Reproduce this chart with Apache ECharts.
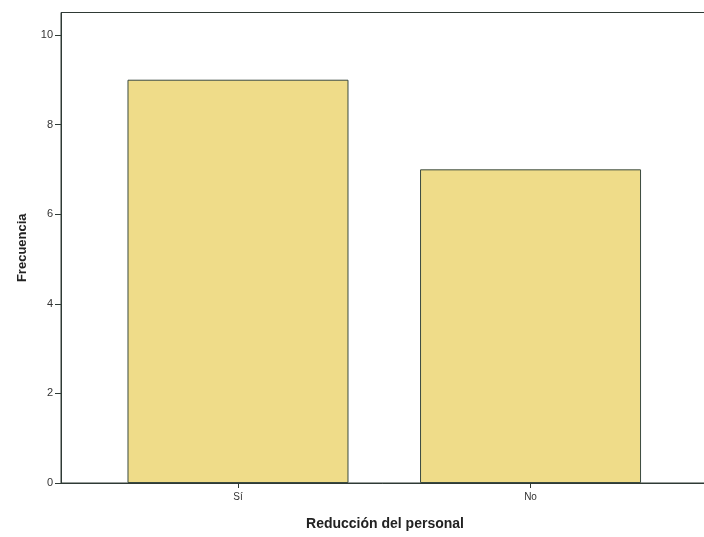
<!DOCTYPE html>
<html>
<head>
<meta charset="utf-8">
<script src="https://cdn.jsdelivr.net/npm/echarts@6/dist/echarts.min.js"></script>
<style>
html,body{margin:0;padding:0;background:#fff;overflow:hidden;}
#chart{width:704px;height:537px;}
</style>
</head>
<body>
<div id="chart"></div>
<script>
var categories = ['Sí', 'No'];
var frequencies = [9, 7];
var yTicks = [0, 2, 4, 6, 8, 10];
var xPositions = [1, 2];

var chart = echarts.init(document.getElementById('chart'), null, {renderer: 'canvas'});
var axisColor = '#2f3a35';
var option = {
  animation: false,
  backgroundColor: '#ffffff',
  grid: {
    left: 61, width: 648, top: 12.5, bottom: 54,
    outerBoundsMode: 'none', containLabel: false,
    show: true, borderColor: axisColor, borderWidth: 1, backgroundColor: 'transparent'
  },
  xAxis: {
    type: 'value',
    min: 0.395, max: 2.61,
    name: 'Reducción del personal',
    nameLocation: 'middle',
    nameGap: 34,
    nameTextStyle: {fontFamily: 'Liberation Sans', fontWeight: 'bold', fontSize: 14, color: '#222'},
    axisLine: {show: true, lineStyle: {color: axisColor, width: 1}},
    axisTick: {show: true, length: 5, customValues: xPositions, lineStyle: {color: axisColor}},
    axisLabel: {
      customValues: xPositions,
      fontFamily: 'Liberation Sans', fontSize: 10, color: '#333', margin: 9,
      formatter: function (v) { return categories[Math.round(v) - 1] || ''; }
    },
    splitLine: {show: false}
  },
  yAxis: {
    type: 'value',
    min: 0, max: 10.5,
    name: 'Frecuencia',
    nameLocation: 'middle',
    nameGap: 32,
    nameTextStyle: {fontFamily: 'Liberation Sans', fontWeight: 'bold', fontSize: 13, color: '#222'},
    axisLine: {show: true, lineStyle: {color: axisColor, width: 1}},
    axisTick: {show: true, length: 6, customValues: yTicks, lineStyle: {color: axisColor}},
    axisLabel: {
      customValues: yTicks,
      fontFamily: 'Liberation Sans', fontSize: 11, color: '#333', margin: 8
    },
    splitLine: {show: false}
  },
  series: [{
    type: 'bar',
    barWidth: 221,
    data: categories.map(function (c, i) { return [xPositions[i], frequencies[i]]; }),
    itemStyle: {color: '#efdc89', borderColor: '#3a4a3f', borderWidth: 1}
  }]
};
chart.setOption(option);
</script>
</body>
</html>
